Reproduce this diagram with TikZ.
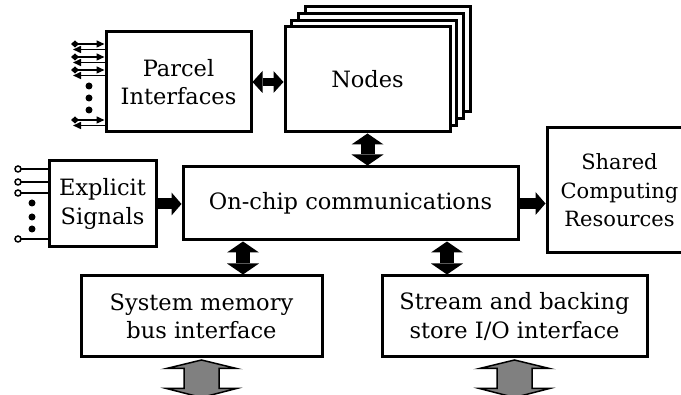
\documentclass[tikz,border=0pt]{standalone}
\usepackage{fontspec}
\setmainfont{DejaVu Serif}
\usepackage{tikz}
\usetikzlibrary{arrows.meta, positioning, calc}
\usepackage{xcolor}
\definecolor{busgray}{RGB}{128, 128, 128}
\definecolor{edgeblack}{RGB}{0, 0, 0}

\begin{document}
\begin{tikzpicture}[
  x=1pt, y=-1pt,
  box/.style={rectangle, draw=edgeblack, fill=white, line width=3pt, inner sep=0pt, align=center, font=\fontsize{22.5}{28.5}\selectfont},
  bigarr/.style={{Triangle[length=10pt, width=22pt, line width=0pt]}-{Triangle[length=10pt, width=22pt, line width=0pt]}, line width=10pt},
  onearr/.style={-{Triangle[length=10pt, width=23pt, line width=0pt]}, line width=11pt},
  vertarr/.style={{Triangle[length=11pt, width=32pt, line width=0pt]}-{Triangle[length=11pt, width=32pt, line width=0pt]}, line width=14pt},
  busarr/.style={draw=edgeblack, fill=busgray, line width=1.5pt, line join=miter},
  sig/.style={line width=1.5pt},
  dot/.style={fill=edgeblack}
]
\useasboundingbox (0,0) rectangle (681,395);

% blocks
\node[box, minimum width=145pt, minimum height=100pt] (parcel) at (178.5,82) {Parcel\\Interfaces};
\foreach \k in {3,2,1}
  \node[box, minimum width=165pt, minimum height=105pt] (nodes\k) at (367.5+6.7*\k, 79.5-6.7*\k) {};
\node[box, minimum width=165pt, minimum height=105pt] (nodes) at (367.5,79.5) {Nodes};
\node[box, minimum width=335pt, minimum height=73pt] (onchip) at (350.5,203.5) {On-chip communications};
\node[box, minimum width=107pt, minimum height=86pt] (explicit) at (102.5,204) {Explicit\\Signals};
\node[box, minimum width=145pt, minimum height=125pt, font=\fontsize{21}{28.5}\selectfont] (shared) at (619.5,190.5) {Shared\\Computing\\Resources};
\node[box, minimum width=241pt, minimum height=81pt] (sysmem) at (201.5,316.5) {System memory\\bus interface};
\node[box, minimum width=265pt, minimum height=81pt] (stream) at (514.5,316.5) {Stream and backing\\store I/O interface};

% big links
\draw[bigarr, line width=8pt] (parcel.east) -- (parcel.east -| nodes.west);
\draw[vertarr] (nodes.south) -- (nodes.south |- onchip.north);
\draw[onearr] (explicit.east) -- (explicit.east -| onchip.west);
\draw[onearr] (onchip.east) -- (onchip.east -| shared.west);
\coordinate (memtap) at (243,0);
\coordinate (iotap) at (447,0);
\draw[vertarr] (onchip.south -| memtap) -- (sysmem.north -| memtap);
\draw[vertarr] (onchip.south -| iotap) -- (stream.north -| iotap);

% external buses
\draw[busarr] (sysmem.south) ++(0,1.5) -- ++(35,8.5) -- ++(-17.5,0) -- ++(0,20) -- ++(17.5,0) -- ++(-35,9) -- ++(-35,-9) -- ++(17.5,0) -- ++(0,-20) -- ++(-17.5,0) -- cycle;
\draw[busarr] (stream.south) ++(0,1.5) -- ++(35,8.5) -- ++(-17.5,0) -- ++(0,20) -- ++(17.5,0) -- ++(-35,9) -- ++(-35,-9) -- ++(17.5,0) -- ++(0,-20) -- ++(-17.5,0) -- cycle;

% parcel ports
\foreach \y in {44,57,70,120} {
  \coordinate (pin\y) at (71,\y);
  \coordinate (pout\y) at (73,\y+5.5);
  \draw[sig, {Diamond[length=8pt, width=7pt]}-{Triangle[length=8pt, width=7pt]}] (pin\y) -- (parcel.west |- pin\y);
  \draw[sig, -{Triangle[length=8pt, width=7pt]}] (parcel.west |- pout\y) -- (pout\y);
}
\foreach \y in {86,98,110}
  \fill[dot] (89,\y) circle (3.5);

% explicit signal lines
\foreach \y in {169,182,193,239} {
  \coordinate (sig\y) at (18,\y);
  \draw[sig] (sig\y) ++(3,0) -- (explicit.west |- sig\y);
  \draw[sig, fill=white] (sig\y) circle (3);
}
\foreach \y in {203,217,229}
  \fill[dot] (32,\y) circle (3.5);

\end{tikzpicture}
\end{document}
